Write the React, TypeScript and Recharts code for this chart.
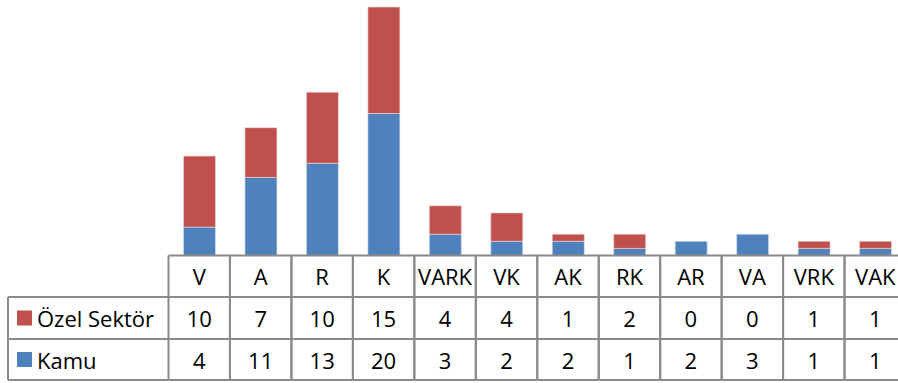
import { BarChart, Bar, XAxis, YAxis } from "recharts";

const categories = ["V", "A", "R", "K", "VARK", "VK", "AK", "RK", "AR", "VA", "VRK", "VAK"];
const ozelSektor = [10, 7, 10, 15, 4, 4, 1, 2, 0, 0, 1, 1];
const kamu = [4, 11, 13, 20, 3, 2, 2, 1, 2, 3, 1, 1];
const seriesNames = { ozel: "Özel Sektör", kamu: "Kamu" };

const data = categories.map((name, i) => ({ name, kamu: kamu[i], ozel: ozelSektor[i] }));

const RED = "#C0504D";
const BLUE = "#4F81BD";
const GRID = "#8a8a8a";
const FONT = "'Open Sans', sans-serif";

const CHART_W = 906;
const LEFT = 168.5;
const COL = (CHART_W - LEFT) / categories.length;
const ROW0 = 255.5;
const ROW1 = 297;
const ROW2 = 339;
const ROW3 = 380;

const TableTick = (props: any) => {
  const { x, payload, index } = props;
  const l = x - COL / 2;
  const r = x + COL / 2;
  const textProps = { fontFamily: FONT, fontSize: 22, fill: "#000", textAnchor: "middle" as const, dominantBaseline: "central" as const };
  return (
    <g>
      <line x1={l} y1={ROW0} x2={l} y2={ROW3} stroke={GRID} strokeWidth={2} />
      <line x1={r} y1={ROW0} x2={r} y2={ROW3} stroke={GRID} strokeWidth={2} />
      <line x1={l} y1={ROW1} x2={r} y2={ROW1} stroke={GRID} strokeWidth={2} />
      <line x1={l} y1={ROW2} x2={r} y2={ROW2} stroke={GRID} strokeWidth={2} />
      <line x1={l} y1={ROW3} x2={r} y2={ROW3} stroke={GRID} strokeWidth={2} />
      <text {...textProps} x={x} y={(ROW0 + ROW1) / 2}>{payload.value}</text>
      <text {...textProps} x={x} y={(ROW1 + ROW2) / 2}>{ozelSektor[index]}</text>
      <text {...textProps} x={x} y={(ROW2 + ROW3) / 2}>{kamu[index]}</text>
      {index === 0 && (
        <g>
          <line x1={8} y1={ROW1} x2={l} y2={ROW1} stroke={GRID} strokeWidth={2} />
          <line x1={8} y1={ROW2} x2={l} y2={ROW2} stroke={GRID} strokeWidth={2} />
          <line x1={8} y1={ROW3} x2={l} y2={ROW3} stroke={GRID} strokeWidth={2} />
          <line x1={8} y1={ROW1} x2={8} y2={ROW3} stroke={GRID} strokeWidth={2} />
          <rect x={17} y={(ROW1 + ROW2) / 2 - 7.5} width={15} height={15} fill={RED} />
          <rect x={17} y={(ROW2 + ROW3) / 2 - 7.5} width={15} height={15} fill={BLUE} />
          <text {...textProps} textAnchor="start" x={37} y={(ROW1 + ROW2) / 2}>{seriesNames.ozel}</text>
          <text {...textProps} textAnchor="start" x={37} y={(ROW2 + ROW3) / 2}>{seriesNames.kamu}</text>
        </g>
      )}
    </g>
  );
};

export default function App() {
  return (
    <div style={{ position: "absolute", left: 0, top: 0, width: 898, height: 383, overflow: "hidden", background: "#fff" }}>
      <BarChart
        width={CHART_W}
        height={383}
        data={data}
        margin={{ top: 7, right: 0, left: LEFT, bottom: 0 }}
        barSize={32}
      >
        <XAxis
          dataKey="name"
          height={383 - ROW0}
          interval={0}
          tickLine={false}
          axisLine={{ stroke: GRID, strokeWidth: 2 }}
          tick={<TableTick />}
        />
        <YAxis hide domain={[0, 35]} />
        <Bar dataKey="kamu" stackId="a" fill={BLUE} stroke="#dde6f2" strokeWidth={0.6} isAnimationActive={false} />
        <Bar dataKey="ozel" stackId="a" fill={RED} stroke="#f2dcdb" strokeWidth={0.6} isAnimationActive={false} />
      </BarChart>
    </div>
  );
}
